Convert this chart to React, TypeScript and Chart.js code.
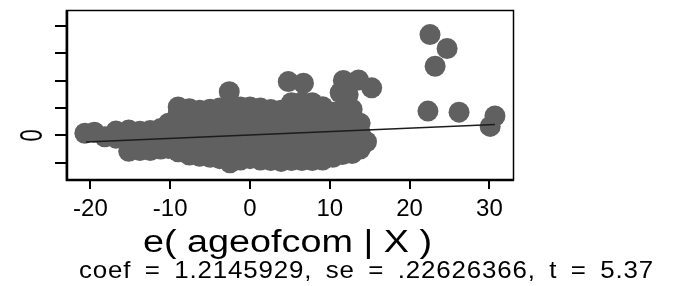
import React, { useEffect, useRef } from 'react';
import { Chart, registerables } from 'chart.js';

Chart.register(...registerables);

// ---- data ----
// main cloud: one x per column, and the y values of the points in that column
const cloudX = [-20.7, -19.5, -18.2, -16.8, -15.2, -13.8, -12.5, -11.2, -10.2, -9, -7.6, -6.3, -5, -3.8, -2.5, -1.2, 0, 1.3, 2.6, 3.9, 5.2, 6.5, 7.8, 9.1, 10.4, 11.6, 12.8, 13.8, 14.6];
const cloudY = [
  [8], [12], [-5], [-10, 16], [-58, -25, 10, 20], [-55, -20, 15], [-55, -20, 18], [-50, -15, 25],
  [-48, -12, 22, 45], [-60, -25, 10, 45, 80, 104], [-72, -38, -5, 30, 65, 98], [-76, -40, -5, 30, 92],
  [-80, -45, -10, 25, 96], [-85, -50, -15, 30, 70, 100], [-100, -60, -25, 10, 45, 80, 98],
  [-90, -55, -20, 15, 50, 85, 104], [-85, -50, -15, 20, 55, 90, 104], [-90, -55, -20, 15, 50, 85, 100],
  [-92, -57, -22, 13, 48, 83, 95], [-95, -60, -25, 10, 45, 80, 92], [-92, -62, -27, 8, 43, 78, 105, 120],
  [-92, -65, -30, 5, 40, 75, 108, 122], [-92, -63, -28, 7, 42, 77, 108, 120], [-90, -60, -25, 10, 45, 80, 105],
  [-80, -45, -10, 25, 60, 85], [-70, -35, 0, 35, 70, 96], [-66, -30, 5, 40, 75, 96], [-50, -20, 10, 45], [-23],
];
// separate points above / right of the cloud
const extraX = [-2.6, 4.8, 6.7, 11.7, 13.6, 11.3, 12.3, 15.25, 22.3, 26.2, 30.7, 30.1, 22.56, 24.7, 23.2];
const extraY = [160, 197, 191, 201, 203, 156, 150, 174, 89, 85, 71, 33, 369, 318, 253];
// fitted line end points
const fitX = [-20.55, 30.7];
const fitY = [-24, 40];

const xTickValues = [-20, -10, 0, 10, 20, 30];
const yTickValues = [-100, 0, 100, 200, 300, 400];
const yLabelledValues = [0];
const xTitle = 'e( ageofcom | X )';
const noteText = 'coef = 1.2145929, se = .22626366, t = 5.37';

const FONT = '"Liberation Sans", Arial, Helvetica, sans-serif';

function drawFitted(ctx: CanvasRenderingContext2D, text: string, x: number, baseline: number, size: number, width: number, letter = 0, word = 0) {
  ctx.save();
  ctx.font = `${size}px ${FONT}`;
  const c: any = ctx;
  if (letter) c.letterSpacing = `${letter}px`;
  if (word) c.wordSpacing = `${word}px`;
  ctx.textAlign = 'left';
  ctx.textBaseline = 'alphabetic';
  const w = ctx.measureText(text).width;
  ctx.translate(x, baseline);
  ctx.scale(width / w, 1);
  ctx.fillText(text, 0, 0);
  ctx.restore();
}

const decorPlugin = {
  id: 'stataDecor',
  afterDraw(chart: any) {
    const { ctx, chartArea: a, scales } = chart;
    const xs = scales.x;
    const ys = scales.y;
    ctx.save();
    ctx.strokeStyle = '#000';
    ctx.fillStyle = '#000';
    // plot region frame
    ctx.lineWidth = 1.5;
    ctx.strokeRect(a.left + 0.5, a.top, a.right - a.left, a.bottom - a.top);
    // axis lines
    ctx.lineWidth = 2.5;
    ctx.beginPath();
    ctx.moveTo(a.left + 1, a.top);
    ctx.lineTo(a.left + 1, a.bottom + 1);
    ctx.moveTo(a.left, a.bottom);
    ctx.lineTo(a.right + 1, a.bottom);
    ctx.stroke();
    // ticks
    ctx.lineWidth = 2;
    ctx.beginPath();
    xTickValues.forEach((v) => {
      const px = Math.round(xs.getPixelForValue(v));
      ctx.moveTo(px, a.bottom + 1);
      ctx.lineTo(px, a.bottom + 9);
    });
    yTickValues.forEach((v) => {
      const py = Math.round(ys.getPixelForValue(v));
      ctx.moveTo(a.left - 11, py);
      ctx.lineTo(a.left, py);
    });
    ctx.stroke();
    // x tick labels
    ctx.font = `24px ${FONT}`;
    ctx.textAlign = 'center';
    ctx.textBaseline = 'alphabetic';
    xTickValues.forEach((v) => {
      ctx.fillText(String(v), xs.getPixelForValue(v), 216);
    });
    // y tick label(s), rotated and stretched like the reference
    yLabelledValues.forEach((v) => {
      const py = ys.getPixelForValue(v);
      ctx.save();
      ctx.translate(31, py);
      ctx.rotate(-Math.PI / 2);
      ctx.scale(1, 1.4);
      ctx.font = `22px ${FONT}`;
      ctx.textAlign = 'center';
      ctx.fillText(String(v), 0, 7.9);
      ctx.restore();
    });
    // axis title and note
    drawFitted(ctx, xTitle, 143, 251.5, 31, 289);
    drawFitted(ctx, noteText, 79, 277.5, 24, 575, 0.8, 5);
    ctx.restore();
  },
};

export default function App() {
  const ref = useRef<HTMLCanvasElement | null>(null);
  useEffect(() => {
    if (!ref.current) return;
    const pts: { x: number; y: number }[] = [];
    cloudX.forEach((x, i) => cloudY[i].forEach((y) => pts.push({ x, y })));
    extraX.forEach((x, i) => pts.push({ x, y: extraY[i] }));
    const chart = new Chart(ref.current, {
      type: 'scatter',
      data: {
        datasets: [
          {
            type: 'line',
            data: fitX.map((x, i) => ({ x, y: fitY[i] })),
            borderColor: '#1c1c1c',
            borderWidth: 1.7,
            pointRadius: 0,
            fill: false,
          } as any,
          {
            data: pts,
            backgroundColor: '#606060',
            borderWidth: 0,
            pointRadius: 10.5,
            pointHoverRadius: 10.5,
          },
        ],
      },
      options: {
        responsive: false,
        animation: false,
        layout: { padding: { left: 66, top: 5, right: 173, bottom: 106 } },
        plugins: { legend: { display: false }, tooltip: { enabled: false } },
        scales: {
          x: { type: 'linear', display: false, min: -23.06, max: 32.96 },
          y: { type: 'linear', display: false, min: -163, max: 457 },
        },
      },
      plugins: [decorPlugin],
    });
    return () => chart.destroy();
  }, []);
  return (
    <div style={{ position: 'fixed', left: 0, top: 0, width: 686, height: 286, background: '#fff' }}>
      <canvas ref={ref} width={686} height={286} style={{ display: 'block' }} />
    </div>
  );
}
